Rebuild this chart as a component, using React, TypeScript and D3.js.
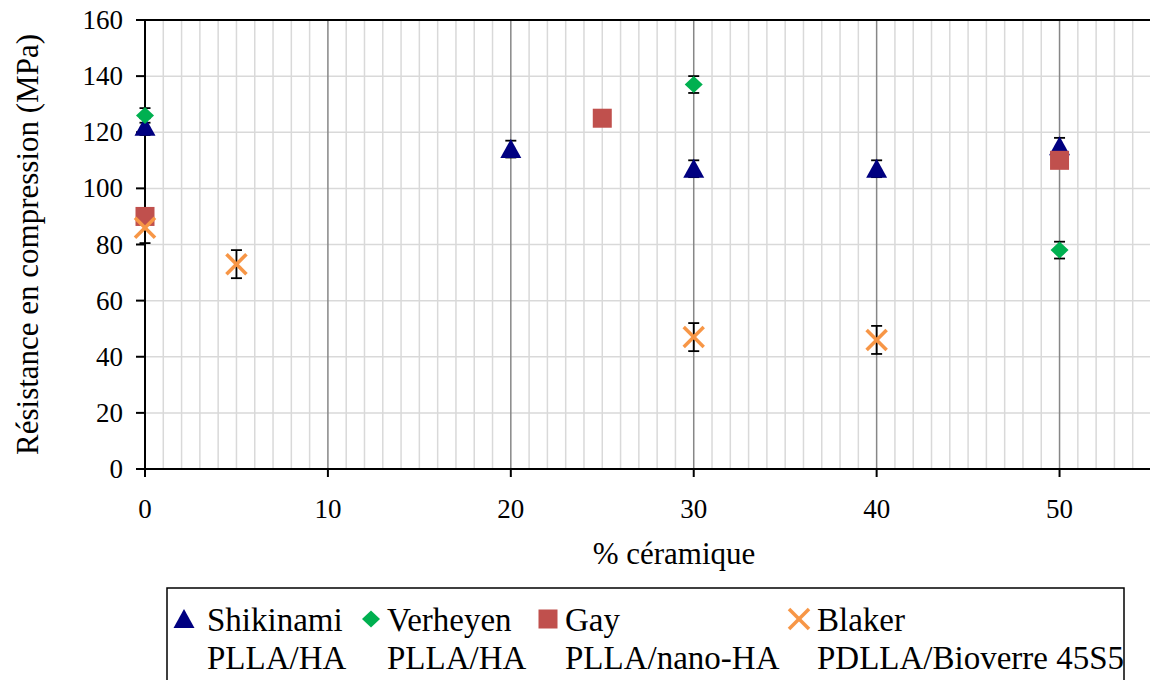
import React from "react";
import * as d3 from "d3";

const xTicks = [0, 10, 20, 30, 40, 50];
const yTicks = [0, 20, 40, 60, 80, 100, 120, 140, 160];

const shikinamiX = [0, 20, 30, 40, 50];
const shikinamiY = [122, 114, 107, 107, 115];
const shikinamiErr = [3, 3, 3, 3, 3];

const verheyenX = [0, 30, 50];
const verheyenY = [126, 137, 78];
const verheyenErr = [2.6, 3, 3];

const gayX = [0, 25, 50];
const gayY = [90, 125, 110];

const blakerX = [0, 5, 30, 40];
const blakerY = [86, 73, 47, 46];
const blakerErr = [5.5, 5, 5, 5];

const legendNames = ["Shikinami", "Verheyen", "Gay", "Blaker"];
const legendSub = ["PLLA/HA", "PLLA/HA", "PLLA/nano-HA", "PDLLA/Bioverre 45S5"];

const C_TRI = "#000080";
const C_DIA = "#00B050";
const C_SQ = "#C0504D";
const C_X = "#F79646";

function T(props: any) {
  const { size, children, ...rest } = props;
  return (
    <text {...rest} fill="#000" fontSize={size} style={{ fontFamily: '"Liberation Serif"' }}>
      {children}
    </text>
  );
}

function Marker({ type, cx, cy }: { type: string; cx: number; cy: number }) {
  if (type === "tri") {
    return <path d={`M${cx},${cy - 10}L${cx + 10.5},${cy + 9}L${cx - 10.5},${cy + 9}Z`} fill={C_TRI} />;
  }
  if (type === "dia") {
    return <path d={`M${cx},${cy - 8.5}L${cx + 9},${cy}L${cx},${cy + 8.5}L${cx - 9},${cy}Z`} fill={C_DIA} />;
  }
  if (type === "sq") {
    return <rect x={cx - 9.5} y={cy - 9.5} width={19} height={19} fill={C_SQ} />;
  }
  return (
    <g stroke={C_X} strokeWidth={3.5}>
      <line x1={cx - 10} y1={cy - 10} x2={cx + 10} y2={cy + 10} />
      <line x1={cx - 10} y1={cy + 10} x2={cx + 10} y2={cy - 10} />
    </g>
  );
}

export default function App() {
  const left = 145, right = 1151, top = 20, bottom = 469;
  const x = d3.scaleLinear().domain([0, 55]).range([left, right]);
  const y = d3.scaleLinear().domain([0, 160]).range([bottom, top]);
  const minor = d3.range(1, 56).filter((v) => v % 10 !== 0);

  const series = [
    { type: "tri", xs: shikinamiX, ys: shikinamiY, err: shikinamiErr },
    { type: "dia", xs: verheyenX, ys: verheyenY, err: verheyenErr },
    { type: "sq", xs: gayX, ys: gayY, err: null as number[] | null },
    { type: "x", xs: blakerX, ys: blakerY, err: blakerErr },
  ];

  const legendTypes = ["tri", "dia", "sq", "x"];
  const legendMarkX = [184, 371, 548, 799];
  const legendTextX = [207, 387, 565, 817];

  return (
    <svg width={1150} height={680} style={{ position: "absolute", left: 0, top: 0, background: "#fff" }}>
      <style>{`svg text, text { font-family: "Liberation Serif", "Times New Roman", serif !important; }`}</style>
      {minor.map((v) => (
        <line key={"m" + v} x1={x(v)} x2={x(v)} y1={top} y2={bottom} stroke="#d9d9d9" strokeWidth={1.5} />
      ))}
      {yTicks.filter((v) => v > 0 && v < 160).map((v) => (
        <line key={"h" + v} x1={left} x2={right} y1={y(v)} y2={y(v)} stroke="#d9d9d9" strokeWidth={1.5} />
      ))}
      {xTicks.filter((v) => v > 0).map((v) => (
        <line key={"M" + v} x1={x(v)} x2={x(v)} y1={top} y2={bottom} stroke="#878787" strokeWidth={1.5} />
      ))}
      <line x1={left} x2={right} y1={y(160)} y2={y(160)} stroke="#000" strokeWidth={2} />
      <line x1={left} x2={right} y1={bottom} y2={bottom} stroke="#000" strokeWidth={2} />
      <line x1={left} x2={left} y1={top} y2={bottom} stroke="#000" strokeWidth={2} />
      {yTicks.map((v) => (
        <g key={"yt" + v}>
          <line x1={left - 9} x2={left} y1={y(v)} y2={y(v)} stroke="#000" strokeWidth={2} />
          <T x={left - 22} y={y(v) + 9} textAnchor="end" size={27}>
            {v}
          </T>
        </g>
      ))}
      {xTicks.map((v) => (
        <g key={"xt" + v}>
          <line x1={x(v)} x2={x(v)} y1={bottom} y2={bottom + 8} stroke="#000" strokeWidth={2} />
          <T x={x(v)} y={518} textAnchor="middle" size={27}>
            {v}
          </T>
        </g>
      ))}
      <T x={674} y={564} textAnchor="middle" size={31}>
        % céramique
      </T>
      <T transform={`translate(38,${(top + bottom) / 2}) rotate(-90)`} textAnchor="middle" size={31}>
        Résistance en compression (MPa)
      </T>
      {series.map((s, si) =>
        s.err
          ? s.xs.map((xv, i) => {
              const cx = x(xv);
              const y1 = y(s.ys[i] + s.err![i]);
              const y2 = y(s.ys[i] - s.err![i]);
              return (
                <g key={`e${si}-${i}`} stroke="#000" strokeWidth={1.8}>
                  <line x1={cx} x2={cx} y1={y1} y2={y2} />
                  <line x1={cx - 5.5} x2={cx + 5.5} y1={y1} y2={y1} />
                  <line x1={cx - 5.5} x2={cx + 5.5} y1={y2} y2={y2} />
                </g>
              );
            })
          : null
      )}
      {series.map((s, si) =>
        s.xs.map((xv, i) => <Marker key={`p${si}-${i}`} type={s.type} cx={x(xv)} cy={y(s.ys[i])} />)
      )}
      <rect x={167} y={588} width={957} height={100} fill="#fff" stroke="#000" strokeWidth={1.5} />
      {legendNames.map((n, i) => (
        <g key={"lg" + i}>
          <Marker type={legendTypes[i]} cx={legendMarkX[i]} cy={619} />
          <T x={legendTextX[i]} y={631} size={33}>
            {n}
          </T>
          <T x={legendTextX[i]} y={669} size={33}>
            {legendSub[i]}
          </T>
        </g>
      ))}
    </svg>
  );
}
